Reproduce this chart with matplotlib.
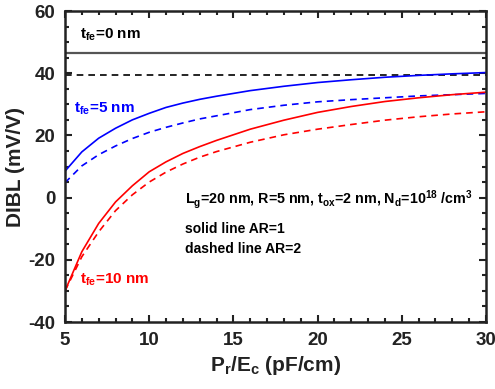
import numpy as np
import matplotlib
matplotlib.use('Agg')
import matplotlib.pyplot as plt
from matplotlib.ticker import MultipleLocator

plt.rcParams['font.family'] = 'Liberation Sans'
plt.rcParams['font.weight'] = 'bold'
plt.rcParams['axes.labelweight'] = 'bold'
plt.rcParams['axes.unicode_minus'] = False
plt.rcParams['mathtext.fontset'] = 'custom'
plt.rcParams['mathtext.rm'] = 'Liberation Sans:bold'
plt.rcParams['mathtext.it'] = 'Liberation Sans:bold'
plt.rcParams['mathtext.bf'] = 'Liberation Sans:bold'

# P_r/E_c (pF/cm)
x = [5, 6, 7, 8, 9, 10, 11, 12, 13, 14, 16, 18, 20, 22, 24, 26, 28, 30]

# DIBL (mV/V)
t0_ar1 = 46.5
t0_ar2 = 39.3
t5_ar1 = [8.5, 14.7, 19.1, 22.3, 25.0, 27.1, 29.0, 30.4, 31.6, 32.6, 34.4, 35.8,
          37.0, 37.9, 38.7, 39.3, 39.8, 40.2]
t5_ar2 = [4.8, 10.2, 13.8, 16.6, 19.0, 21.0, 22.6, 24.0, 25.3, 26.3, 28.3, 29.7,
          30.8, 31.5, 32.1, 32.7, 33.1, 33.5]
t10_ar1 = [-30.0, -17.4, -8.3, -1.4, 3.8, 8.3, 11.5, 14.2, 16.4, 18.4, 22.0, 24.9,
           27.4, 29.3, 30.9, 32.1, 33.1, 33.9]
t10_ar2 = [-30.0, -19.0, -11.0, -4.2, 0.9, 5.0, 8.2, 10.8, 13.0, 14.8, 17.8, 20.2,
           22.0, 23.5, 24.9, 26.0, 26.9, 27.6]

fig = plt.figure(figsize=(4.95, 3.89), dpi=100)
ax = fig.add_axes([0.1313, 0.1722, 0.8505, 0.7995])

ax.axhline(t0_ar1, color='#555555', lw=1.6)
ax.axhline(t0_ar2, color='black', lw=1.2, ls=(0, (4, 3)))
ax.plot(x, t5_ar1, color='blue', lw=1.2)
ax.plot(x, t5_ar2, color='blue', lw=1.2, ls=(0, (4, 3)))
ax.plot(x, t10_ar1, color='red', lw=1.2)
ax.plot(x, t10_ar2, color='red', lw=1.2, ls=(0, (4, 3)))

ax.set_xlim(5, 30)
ax.set_ylim(-40, 60)
ax.xaxis.set_major_locator(MultipleLocator(5))
ax.xaxis.set_minor_locator(MultipleLocator(1))
ax.yaxis.set_major_locator(MultipleLocator(20))
ax.yaxis.set_minor_locator(MultipleLocator(5))
ax.tick_params(which='both', direction='in', top=True, right=True, width=1.5,
               labelsize=13.5, colors='#222222')
ax.tick_params(which='major', length=5, pad=7)
ax.tick_params(which='minor', length=3)
for s in ax.spines.values():
    s.set_linewidth(1.8)
    s.set_color('#222222')

ax.set_xlabel(r'$\mathrm{P_r/E_c}$ (pF/cm)', fontsize=15, color='#222222', labelpad=4)
ax.set_ylabel('DIBL (mV/V)', fontsize=15, color='#222222', labelpad=2)

ax.text(5.9, 52.5, r'$\mathrm{t_{fe}}$=0 nm', fontsize=11, color='black', va='center')
ax.text(5.55, 28.5, r'$\mathrm{t_{fe}}$=5 nm', fontsize=11, color='blue', va='center')
ax.text(5.9, -26.5, r'$\mathrm{t_{fe}}$=10 nm', fontsize=11, color='red', va='center')
ax.text(12.15, -0.5, r'$\mathrm{L_g}$=20 nm, R=5 nm, $\mathrm{t_{ox}}$=2 nm, '
        r'$\mathrm{N_d}$=$\mathrm{10^{18}}$ /$\mathrm{cm^3}$',
        fontsize=10.3, color='black', va='center')
ax.text(12.15, -10.2, 'solid line AR=1', fontsize=10, color='black', va='center')
ax.text(12.15, -16.6, 'dashed line AR=2', fontsize=10, color='black', va='center')

fig.savefig('out.png', dpi=100)
